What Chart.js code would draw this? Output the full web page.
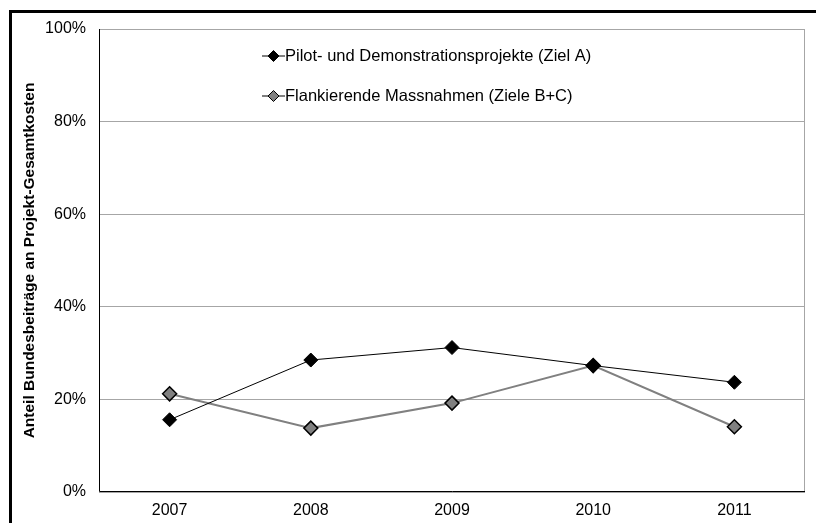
<!DOCTYPE html>
<html>
<head>
<meta charset="utf-8">
<script src="https://cdn.jsdelivr.net/npm/chart.js@4/dist/chart.umd.min.js"></script>
<style>
  body { margin: 0; background: #fff; }
  canvas { display: block; }
</style>
</head>
<body>
<canvas id="chart" width="816" height="523"></canvas>
<script>
const years = ['2007', '2008', '2009', '2010', '2011']
const pilotValues = [15.6, 28.5, 31.2, 27.3, 23.7]
const flankValues = [21.2, 13.8, 19.2, 27.3, 14.1]
const seriesNames = ['Pilot- und Demonstrationsprojekte (Ziel A)', 'Flankierende Massnahmen (Ziele B+C)']
const yTicks = [0, 20, 40, 60, 80, 100]
const yTitle = 'Anteil Bundesbeiträge an Projekt-Gesamtkosten'

const font = 'Arial, "Liberation Sans", sans-serif'

// outer frame + plot box
const framePlugin = {
  id: 'frame',
  beforeDraw(chart) {
    const c = chart.ctx
    c.save()
    c.strokeStyle = '#000'
    c.lineWidth = 3
    c.beginPath()
    c.moveTo(9, 11.5)
    c.lineTo(816, 11.5)
    c.moveTo(10.5, 10)
    c.lineTo(10.5, 523)
    c.stroke()
    c.restore()
  },
  beforeDatasetsDraw(chart) {
    const a = chart.chartArea
    const c = chart.ctx
    c.save()
    c.strokeStyle = '#a6a6a6'
    c.lineWidth = 1
    c.beginPath()
    c.moveTo(a.left, a.top + 0.5)
    c.lineTo(a.right - 0.5, a.top + 0.5)
    c.lineTo(a.right - 0.5, a.bottom)
    c.stroke()
    c.strokeStyle = '#000'
    c.beginPath()
    c.moveTo(a.left + 0.5, a.top)
    c.lineTo(a.left + 0.5, a.bottom - 0.5)
    c.lineTo(a.right, a.bottom - 0.5)
    c.stroke()
    c.restore()
  }
}

// legend drawn inside the plot area
const legendPlugin = {
  id: 'innerLegend',
  afterDatasetsDraw(chart) {
    const c = chart.ctx
    const rows = [56, 96]
    const lineX0 = 262, lineX1 = 285, markX = 273.5, textX = 285
    chart.data.datasets.forEach((ds, i) => {
      const y = rows[i]
      c.save()
      c.strokeStyle = ds.borderColor
      c.lineWidth = ds.borderWidth
      c.beginPath()
      c.moveTo(lineX0, y)
      c.lineTo(lineX1, y)
      c.stroke()
      const r = 5.5
      c.beginPath()
      c.moveTo(markX, y - r)
      c.lineTo(markX + r, y)
      c.lineTo(markX, y + r)
      c.lineTo(markX - r, y)
      c.closePath()
      c.fillStyle = ds.pointBackgroundColor
      c.fill()
      c.strokeStyle = '#000'
      c.lineWidth = 1
      c.stroke()
      c.fillStyle = '#000'
      c.font = '16.5px ' + font
      c.textBaseline = 'middle'
      c.fillText(ds.label, textX, y)
      c.restore()
    })
  }
}

new Chart(document.getElementById('chart'), {
  type: 'line',
  data: {
    labels: years,
    datasets: [{
      label: seriesNames[0],
      data: pilotValues,
      borderColor: '#000',
      borderWidth: 1,
      pointStyle: 'rectRot',
      pointRadius: 7,
      pointBackgroundColor: '#000',
      pointBorderColor: '#000',
      pointBorderWidth: 1
    }, {
      label: seriesNames[1],
      data: flankValues,
      borderColor: '#808080',
      borderWidth: 2,
      pointStyle: 'rectRot',
      pointRadius: 7,
      pointBackgroundColor: '#808080',
      pointBorderColor: '#000',
      pointBorderWidth: 1.5
    }]
  },
  options: {
    responsive: false,
    animation: false,
    layout: { padding: { left: 12, top: 29, right: 11, bottom: 0 } },
    plugins: {
      legend: { display: false },
      tooltip: { enabled: false }
    },
    scales: {
      x: {
        offset: true,
        grid: { display: false, drawTicks: false },
        border: { display: false },
        ticks: { color: '#000', font: { family: font, size: 16 }, padding: 9 },
        afterFit: s => { s.height = 31 }
      },
      y: {
        min: 0,
        max: 100,
        grid: { color: '#a6a6a6', drawTicks: false },
        border: { display: false },
        afterBuildTicks: s => { s.ticks = yTicks.map(v => ({ value: v })) },
        ticks: {
          color: '#000',
          font: { family: font, size: 16 },
          padding: 13,
          callback: v => v + '%'
        },
        title: {
          display: true,
          text: yTitle,
          color: '#000',
          font: { family: font, size: 15.5, weight: 'bold' },
          padding: { top: 8, bottom: 0 }
        },
        afterFit: s => { s.width = 87 }
      }
    }
  },
  plugins: [framePlugin, legendPlugin]
})
</script>
</body>
</html>
